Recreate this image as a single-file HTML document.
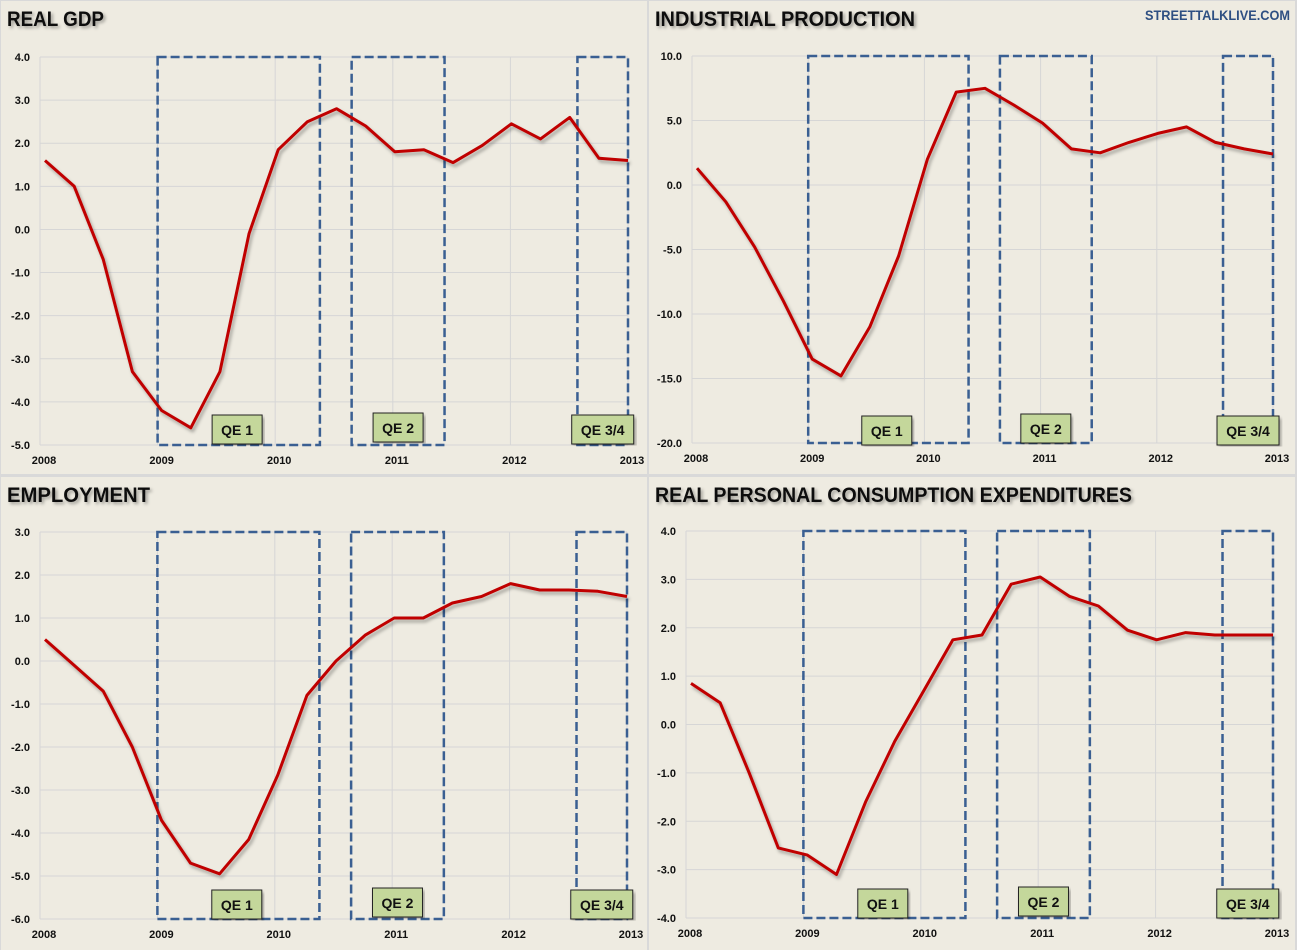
<!DOCTYPE html>
<html><head><meta charset="utf-8">
<style>
body{margin:0;width:1297px;height:950px;background:#d9d9d9;overflow:hidden;font-family:"Liberation Sans",sans-serif}
svg{display:block}
</style></head>
<body>
<svg id="root" width="1297" height="950" xmlns="http://www.w3.org/2000/svg">
<defs>
<filter id="ts" x="-5%" y="-20%" width="110%" height="150%"><feDropShadow dx="2" dy="2" stdDeviation="1.5" flood-color="#000" flood-opacity="0.35"/></filter>
<filter id="ls" x="-5%" y="-5%" width="110%" height="110%"><feDropShadow dx="2" dy="3" stdDeviation="1.5" flood-color="#000" flood-opacity="0.3"/></filter>
</defs>
</svg>
<script>
// Chart data (quarterly, 2008.00 to 2013.00)
const gdpValues = [1.6,1.0,-0.7,-3.3,-4.2,-4.6,-3.3,-0.1,1.85,2.5,2.8,2.4,1.8,1.85,1.55,1.95,2.45,2.1,2.6,1.65,1.6];
const ipValues = [1.3,-1.3,-4.8,-9.0,-13.5,-14.8,-11.0,-5.5,2.0,7.2,7.5,6.2,4.8,2.8,2.5,3.3,4.0,4.5,3.3,2.8,2.4];
const empValues = [0.5,-0.1,-0.7,-2.0,-3.7,-4.7,-4.95,-4.15,-2.65,-0.8,0.0,0.6,1.0,1.0,1.35,1.5,1.8,1.65,1.65,1.62,1.5];
const pceValues = [0.85,0.45,-1.0,-2.55,-2.7,-3.1,-1.6,-0.35,0.7,1.75,1.85,2.9,3.05,2.65,2.45,1.95,1.75,1.9,1.85,1.85,1.85];
const yearTicks = ["2008","2009","2010","2011","2012","2013"];
const gdpTicks = [4,3,2,1,0,-1,-2,-3,-4,-5];
const ipTicks = [10,5,0,-5,-10,-15,-20];
const empTicks = [3,2,1,0,-1,-2,-3,-4,-5,-6];
const pceTicks = [4,3,2,1,0,-1,-2,-3,-4];
const qeLabels = ["QE 1","QE 2","QE 3/4"];
const qeStarts = [2009.0,2010.65,2012.57];
const qeEnds = [2010.38,2011.44,2013.0];

const NS="http://www.w3.org/2000/svg";
const root=document.getElementById('root');
function mk(tag,attrs,parent){const e=document.createElementNS(NS,tag);for(const k in attrs)e.setAttribute(k,attrs[k]);(parent||root).appendChild(e);return e;}

const panels=[
 {name:'real-gdp',title:'REAL GDP',tw:97,px:0,py:0,x0:40,x1:628,y0:57,y1:445,vals:gdpValues,ticks:gdpTicks,lbly:[415,413,415]},
 {name:'industrial-production',title:'INDUSTRIAL PRODUCTION',tw:260,px:648,py:0,x0:692,x1:1273,y0:56,y1:443,vals:ipValues,ticks:ipTicks,lbly:[416,414,416]},
 {name:'employment',title:'EMPLOYMENT',tw:143,px:0,py:476,x0:40,x1:627,y0:532,y1:919,vals:empValues,ticks:empTicks,lbly:[890,888,890]},
 {name:'real-pce',title:'REAL PERSONAL CONSUMPTION EXPENDITURES',tw:477,px:648,py:476,x0:686,x1:1273,y0:531,y1:918,vals:pceValues,ticks:pceTicks,lbly:[889,887,889]}
];

panels.forEach(p=>{
 const g=mk('g',{});
 
 
 const bg=mk('rect',{x:p.px+1,y:p.py+1,width:646,height:473,fill:'#eeebe1'},g);
 
 
 const tmax=p.ticks[0],tmin=p.ticks[p.ticks.length-1];
 const yS=v=>p.y0+(tmax-v)/(tmax-tmin)*(p.y1-p.y0);
 const xS=yr=>p.x0+(yr-2008)/5*(p.x1-p.x0);
 const xD=yr=>(p.x0+5)+(yr-2008)/5*(p.x1-p.x0-5);
 p.ticks.forEach(t=>{
  const gl=mk('line',{x1:p.x0,x2:p.x1,y1:yS(t),y2:yS(t),stroke:'#d6d6d6','stroke-width':1},g);
  
  
  const tl=mk('text',{x:p.x0-10,y:yS(t)+4,'text-anchor':'end','font-size':11,'font-weight':'bold',fill:'#111'},g);
  tl.textContent=t.toFixed(1);
  
  
 });
 yearTicks.forEach((y,i)=>{
  const x=xS(2008+i);
  const vl=mk('line',{x1:x,x2:x,y1:p.y0,y2:p.y1,stroke:'#d6d6d6','stroke-width':1},g);
  
  
  const xl=mk('text',{x:x+4,y:p.y1+19,'text-anchor':'middle','font-size':11,'font-weight':'bold',fill:'#111'},g);
  xl.textContent=y;
  
  
 });
 qeLabels.forEach((lab,i)=>{
  const xa=xS(qeStarts[i]),xb=xS(qeEnds[i]);
  const r=mk('rect',{x:xa,y:p.y0,width:xb-xa,height:p.y1-p.y0,fill:'none',stroke:'#3a5f92','stroke-width':2.5,'stroke-dasharray':'9,4'},g);
  
  
 });
 const pts=p.vals.map((v,i)=>xD(2008+i*0.25).toFixed(1)+','+yS(v).toFixed(1)).join(' ');
 const pl=mk('polyline',{points:pts,fill:'none',stroke:'#c00000','stroke-width':3,'stroke-linejoin':'round',filter:'url(#ls)'},g);
 
 
 qeLabels.forEach((lab,i)=>{
  const xa=xS(qeStarts[i]),xb=xS(qeEnds[i]);
  const w=lab.length>4?62:50;
  const cx=(i==0)?xa+(xb-xa)*0.49:(xa+xb)/2;
  const bx=cx-w/2,by=p.lbly[i];
  const lb=mk('rect',{x:bx,y:by,width:w,height:29,fill:'#c4d79b',stroke:'#222','stroke-width':1,filter:'url(#ls)'},g);
  
  
  const lt=mk('text',{x:cx,y:by+20,'text-anchor':'middle','font-size':14,'font-weight':'bold',fill:'#111'},g);
  lt.textContent=lab;
  
  
 });
 const tt=mk('text',{x:p.px+7,y:p.py+26,'font-size':21,'font-weight':'bold',fill:'#111',filter:'url(#ts)',textLength:p.tw,lengthAdjust:'spacingAndGlyphs'},g);
 tt.textContent=p.title;
 
 
});
const wm=mk('text',{x:1145,y:20,'font-size':14,'font-weight':'bold',fill:'#2e4f82',textLength:145,lengthAdjust:'spacingAndGlyphs'});
wm.textContent='STREETTALKLIVE.COM';


</script>
</body></html>
